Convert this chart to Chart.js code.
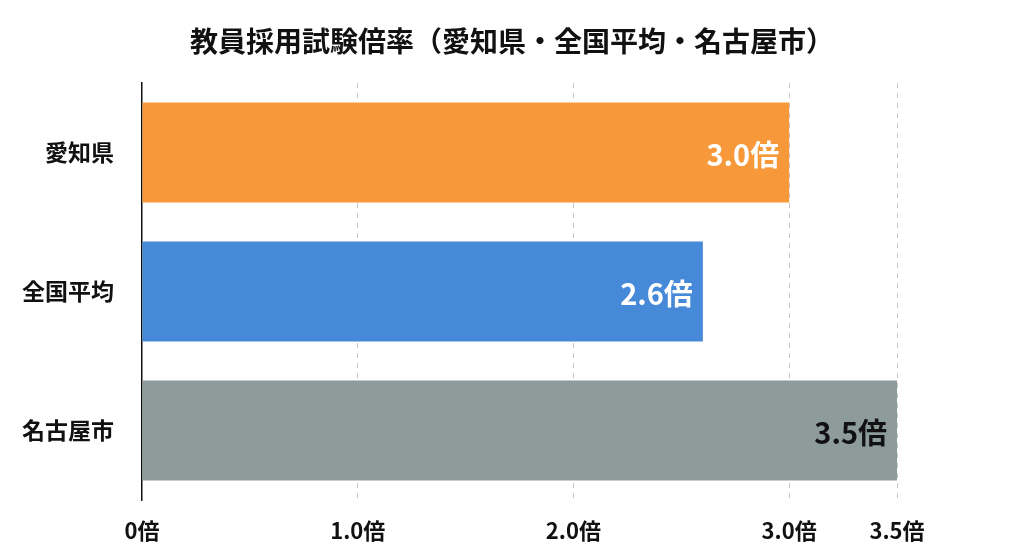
<!DOCTYPE html>
<html><head><meta charset="utf-8">
<script src="https://cdn.jsdelivr.net/npm/chart.js@4"></script>
<style>html,body{margin:0;background:#fff}#w{width:1024px;height:559px}</style>
</head><body><div id="w"><canvas id="c"></canvas></div>
<script>
const categories = ['愛知県','全国平均','名古屋市'];
const values = [3.0, 2.6, 3.5];
const colors = ['#F7993A','#4689D8','#8D9C9B'];
const labelColors = ['#ffffff','#ffffff','#111111'];
const tickValues = [0, 1.0, 2.0, 3.0, 3.5];
const titleText = '教員採用試験倍率（愛知県・全国平均・名古屋市）';
const font = '"Noto Sans CJK JP", "Noto Sans", sans-serif';

const inLabels = {
  id:'inLabels',
  afterDatasetsDraw(chart){
    const ctx = chart.ctx;
    chart.getDatasetMeta(0).data.forEach((el,i)=>{
      ctx.save();
      ctx.font = 'bold 29px ' + font;
      ctx.fillStyle = labelColors[i];
      ctx.textAlign = 'right'; ctx.textBaseline = 'middle';
      ctx.fillText(values[i].toFixed(1)+'倍', el.x - 10, el.y + 2);
      ctx.restore();
    });
  },
  afterDraw(chart){
    const ctx = chart.ctx;
    ctx.save();
    ctx.font = 'bold 28px ' + font;
    ctx.fillStyle = '#111';
    ctx.textAlign = 'center'; ctx.textBaseline = 'middle';
    ctx.fillText(titleText, chart.width/2, 41);
    ctx.restore();
  }
};

new Chart(document.getElementById('c'), {
  type:'bar',
  data:{labels:categories, datasets:[{data:values, backgroundColor:colors, barPercentage:0.72, categoryPercentage:1}]},
  options:{
    indexAxis:'y', responsive:true, maintainAspectRatio:false, animation:false,
    layout:{padding:{left:0,right:127,bottom:0,top:83}},
    plugins:{ legend:{display:false}, tooltip:{enabled:false}, title:{display:false} },
    scales:{
      x:{min:0, max:3.5,
        afterBuildTicks(s){ s.ticks = tickValues.map(v=>({value:v})); },
        afterFit(s){ s.height = 59; },
        border:{display:false, dash:[5,5]},
        grid:{color:c=>c.tick && c.tick.value===0?'rgba(0,0,0,0)':'#c8c8c8', drawTicks:false, lineWidth:1},
        ticks:{padding:17, color:'#111', font:{family:font,size:22,weight:'bold'},
          callback:v=>v===0?'0倍':Number(v).toFixed(1)+'倍'}
      },
      y:{
        afterFit(s){ s.width = 142; },
        border:{display:true,color:'#111',width:1.5},
        grid:{display:false},
        ticks:{padding:20, color:'#111', font:{family:font,size:23,weight:'bold'}}
      }
    }
  },
  plugins:[inLabels]
});
</script></body></html>
